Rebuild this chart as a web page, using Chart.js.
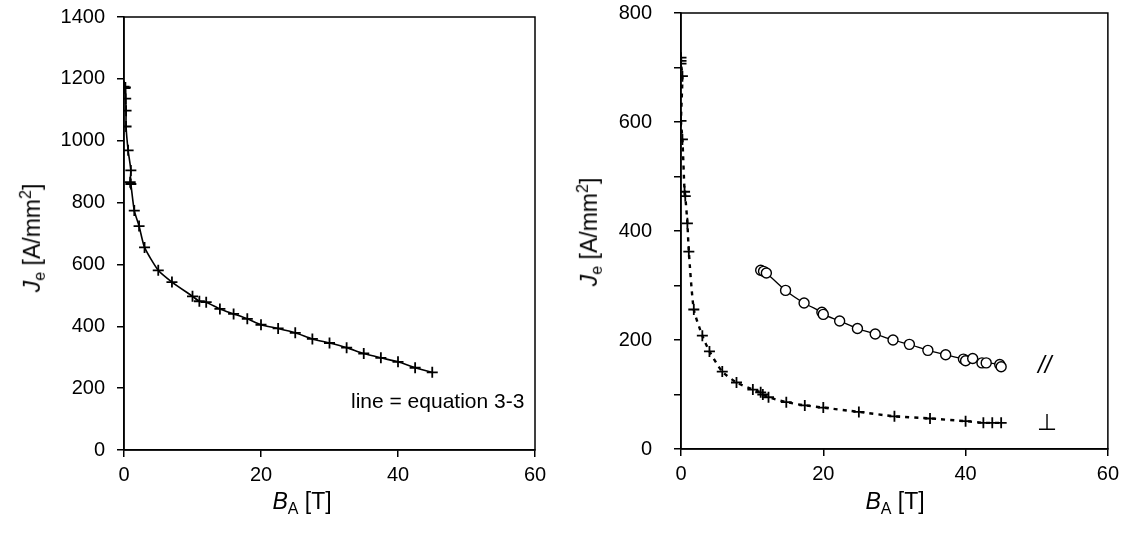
<!DOCTYPE html>
<html>
<head>
<meta charset="utf-8">
<script src="https://cdn.jsdelivr.net/npm/chart.js@4.4.0/dist/chart.umd.min.js"></script>
<style>
  body { margin: 0; background: #fff; width: 1125px; height: 539px; overflow: hidden; position: relative; font-family: "Liberation Sans", Arial, sans-serif; }
  .box { position: absolute; top: 0; }
  .lbl { position: absolute; font-size: 23px; color: #000; white-space: nowrap; }
  .lbl sub, .lbl sup { font-size: 16px; }
  .ytitle { transform: translate(-50%, -50%) rotate(-90deg); }
  .xtitle { transform: translate(-50%, -50%); }
</style>
</head>
<body>
<div class="box" id="left-box" style="left:0;width:560px"><canvas id="left-chart" width="560" height="539"></canvas></div>
<div class="box" id="right-box" style="left:560px;width:565px"><canvas id="right-chart" width="565" height="539"></canvas></div>

<div class="lbl ytitle" style="left:33px;top:238px"><i>J</i><sub>e</sub> [A/mm<sup>2</sup>]</div>
<div class="lbl xtitle" style="left:302px;top:503px"><i>B</i><sub>A</sub> [T]</div>
<div class="lbl ytitle" style="left:590px;top:232px"><i>J</i><sub>e</sub> [A/mm<sup>2</sup>]</div>
<div class="lbl xtitle" style="left:895px;top:503px"><i>B</i><sub>A</sub> [T]</div>
<div class="lbl" style="left:351px;top:389px;font-size:21px">line = equation 3-3</div>
<div class="lbl" style="left:1038px;top:351px;font-size:24px"><i>//</i></div>
<div class="lbl" style="left:1037px;top:409px;font-size:23px">&perp;</div>

<script>
// left panel: Je vs BA
const leftB = [0, 0.1, 0.2, 0.25, 0.3, 0.3, 0.6, 1.0, 0.9, 1.0, 1.5, 2.2, 3, 5, 7, 10, 11, 12, 14, 16, 18, 20, 22.5, 25, 27.5, 30, 32.5, 35, 37.5, 40, 42.5, 45];
const leftJ = [1175, 1170, 1172, 1136, 1097, 1046, 969, 904, 866, 860, 774, 724, 655, 581, 543, 497, 481, 478, 456, 440, 424, 405, 393, 379, 359, 346, 331, 312, 298, 285, 266, 251];

// right panel: perpendicular (crosses, dashed) and parallel (circles, solid)
const perpB = [0, 0, 0, 0.2, 0, 0.2, 0.5, 0.6, 0.9, 1.1, 1.8, 3.0, 4.0, 5.8, 7.8, 10.1, 11.2, 11.5, 12.3, 14.8, 17.4, 20, 25, 30, 35, 40, 42.5, 43.75, 45];
const perpJ = [718, 712, 707, 684, 602, 568, 472, 464, 414, 362, 256, 208, 179, 142, 122, 109, 104, 100, 95, 86, 80, 76, 68, 60, 56, 51, 48, 48, 48];
const parB = [11.2, 11.6, 12, 14.7, 17.3, 19.8, 20, 22.3, 24.8, 27.3, 29.8, 32.1, 34.7, 37.2, 39.7, 40, 41, 42.3, 42.9, 44.8, 45];
const parJ = [328, 326, 323, 291, 268, 251, 247, 235, 221, 211, 200, 192, 181, 173, 165, 162, 166, 158, 158, 155, 151];

const xTicks = [0, 20, 40, 60];
const leftMax = 1400, leftStep = 200;
const rightMax = 800, rightStep = 100, rightLabelStep = 200;
const X_AXIS_H = 89;

function toPoints(xs, ys) {
    return xs.map((x, i) => ({ x: x, y: ys[i] }));
}

// frame round the plot area
const frame = {
    id: "frame",
    afterDraw(chart) {
        let a = chart.chartArea;
        let ctx = chart.ctx;
        ctx.save();
        ctx.strokeStyle = "#000";
        ctx.lineWidth = 1.5;
        ctx.strokeRect(a.left, a.top, a.right - a.left, a.bottom - a.top);
        ctx.restore();
    }
};

function makeScales(yMax, yStep, yLabelStep, yWidth, yPad) {
    const font = { family: "'Liberation Sans', Arial, sans-serif", size: 20 };
    return {
        x: {
            type: "linear",
            min: 0,
            max: 60,
            afterBuildTicks: (axis) => { axis.ticks = xTicks.map((v) => ({ value: v })); },
            ticks: { color: "#000", font: font, padding: 6, maxRotation: 0 },
            grid: { drawOnChartArea: false, color: "#000", tickLength: 7, lineWidth: 1.5 },
            border: { color: "#000", width: 1.5 },
            afterFit: (axis) => { axis.height = X_AXIS_H; },
        },
        y: {
            type: "linear",
            min: 0,
            max: yMax,
            ticks: {
                stepSize: yStep,
                color: "#000",
                font: font,
                padding: yPad,
                callback: (v) => (v % yLabelStep === 0 ? String(v) : ""),
            },
            grid: { drawOnChartArea: false, color: "#000", tickLength: 7, lineWidth: 1.5 },
            border: { color: "#000", width: 1.5 },
            afterFit: (axis) => { axis.width = yWidth; },
        },
    };
}

// size the canvas so the plot area spans top..bottom on the page
function place(chart, boxId, top, bottom) {
    for (let i = 0; i < 4; i++) {
        let h = chart.chartArea.bottom - chart.chartArea.top;
        if (Math.abs(h - (bottom - top)) < 0.5) break;
        chart.resize(chart.width, Math.round(chart.height + (bottom - top) - h));
    }
    document.getElementById(boxId).style.top = (top - chart.chartArea.top) + "px";
}

const common = {
    responsive: false,
    maintainAspectRatio: false,
    animation: false,
    plugins: { legend: { display: false }, tooltip: { enabled: false } },
};

let leftChart = new Chart(document.getElementById("left-chart").getContext("2d"), {
    type: "scatter",
    data: {
        datasets: [
            {
                data: toPoints(leftB, leftJ),
                showLine: true,
                tension: 0.2,
                borderColor: "#000",
                borderWidth: 1.6,
                pointStyle: "cross",
                pointRadius: 5.5,
                pointBorderWidth: 1.8,
                pointBorderColor: "#000",
            },
        ],
    },
    options: Object.assign({}, common, {
        layout: { padding: { left: 0, right: 25, top: 0, bottom: 0 } },
        scales: makeScales(leftMax, leftStep, leftStep, 124, 12),
    }),
    plugins: [frame],
});
place(leftChart, "left-box", 17, 450);

let rightChart = new Chart(document.getElementById("right-chart").getContext("2d"), {
    type: "scatter",
    data: {
        datasets: [
            {
                // dashed curve for the perpendicular set
                data: toPoints(perpB, perpJ),
                showLine: true,
                tension: 0.2,
                borderColor: "#000",
                borderWidth: 2.4,
                borderDash: [4, 5],
                pointRadius: 0,
            },
            {
                data: toPoints(perpB, perpJ),
                showLine: false,
                pointStyle: "cross",
                pointRadius: 5.5,
                pointBorderWidth: 1.8,
                pointBorderColor: "#000",
            },
            {
                data: toPoints(parB, parJ),
                showLine: true,
                tension: 0.3,
                borderColor: "#000",
                borderWidth: 1.3,
                pointStyle: "circle",
                pointRadius: 5,
                pointBorderWidth: 1.4,
                pointBorderColor: "#000",
                pointBackgroundColor: "#fff",
            },
        ],
    },
    options: Object.assign({}, common, {
        layout: { padding: { left: 0, right: 17, top: 0, bottom: 0 } },
        scales: makeScales(rightMax, rightStep, rightLabelStep, 121, 22),
    }),
    plugins: [frame],
});
place(rightChart, "right-box", 13, 449);
</script>
</body>
</html>
